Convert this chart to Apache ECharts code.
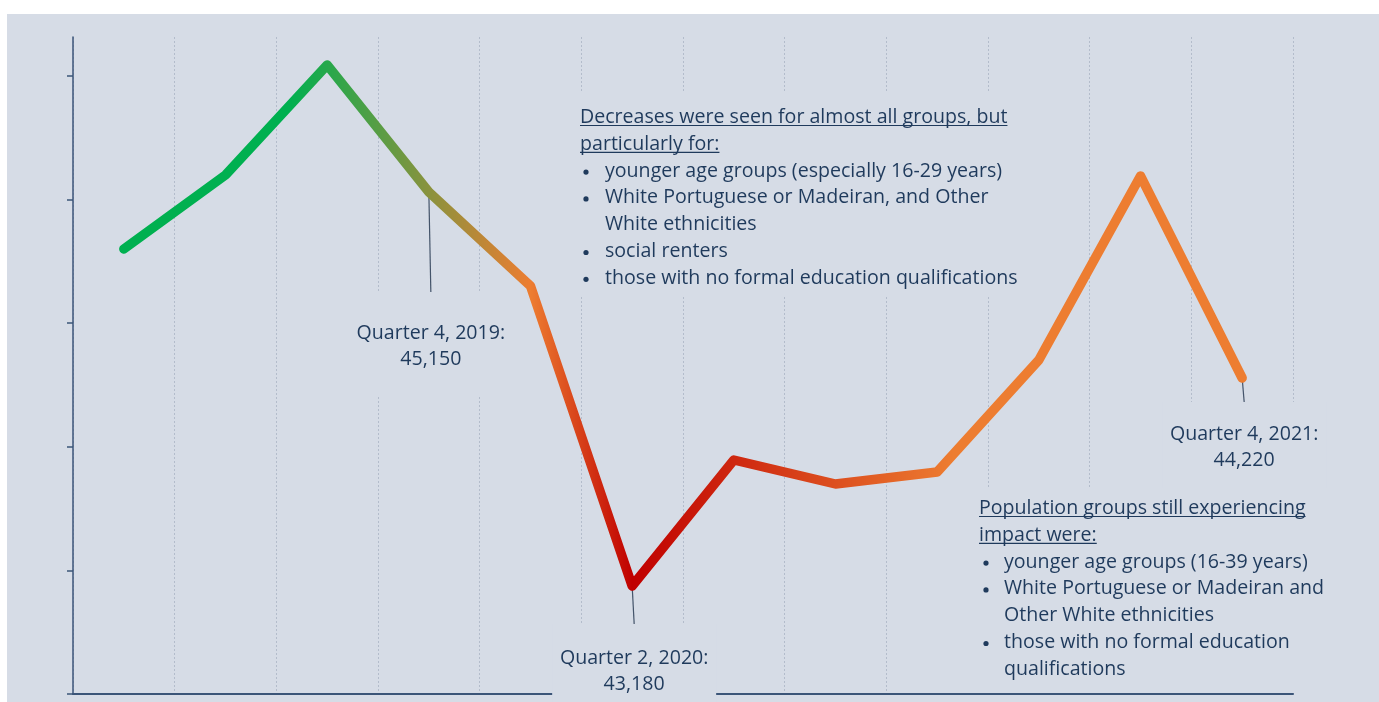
<!DOCTYPE html>
<html>
<head>
<meta charset="utf-8">
<script src="https://cdn.jsdelivr.net/npm/echarts@6/dist/echarts.min.js"></script>
<style>
  html, body { margin: 0; background: #ffffff; }
  #chart { position: absolute; left: 7px; top: 14px; width: 1372px; height: 688px; }
</style>
</head>
<body>
<div id="chart"></div>
<script>
// Quarterly employment count, 2019–2021
const quarters = [
  'Quarter 1, 2019', 'Quarter 2, 2019', 'Quarter 3, 2019', 'Quarter 4, 2019',
  'Quarter 1, 2020', 'Quarter 2, 2020', 'Quarter 3, 2020', 'Quarter 4, 2020',
  'Quarter 1, 2021', 'Quarter 2, 2021', 'Quarter 3, 2021', 'Quarter 4, 2021'
];
const employed = [44865, 45235, 45785, 45150, 44680, 43180, 43810, 43690, 43750, 44310, 45230, 44220];
const yTicks = [42640, 43258, 43876, 44494, 45112, 45730];
const yMin = 42640;
const yMax = 45925;
const calloutIndex = [3, 5, 11];

const decreaseHeading = ['Decreases were seen for almost all groups, but', 'particularly for:'];
const decreaseBullets = [
  ['younger age groups (especially 16-29 years)'],
  ['White Portuguese or Madeiran, and Other', 'White ethnicities'],
  ['social renters'],
  ['those with no formal education qualifications']
];
const impactHeading = ['Population groups still experiencing', 'impact were:'];
const impactBullets = [
  ['younger age groups (16-39 years)'],
  ['White Portuguese or Madeiran and', 'Other White ethnicities'],
  ['those with no formal education', 'qualifications']
];

// ---- styling ----
const BG = '#d6dce6';
const INK = '#1f3a5c';
const AXIS = '#3b5578';
const FONT = '"Open Sans"';
const FS = 19.6;
const STEP = 26.8;

const measureCtx = document.createElement('canvas').getContext('2d');
function textWidth(s) {
  measureCtx.font = FS + 'px ' + FONT;
  return measureCtx.measureText(s).width;
}

// A note block: underlined heading followed by a bulleted list on a plain panel
function noteBlock(panel, x, y, bulletX, textX, heading, bullets) {
  const els = [{
    type: 'rect', z: 5, silent: true,
    shape: panel, style: { fill: BG }
  }];
  let row = 0;
  heading.forEach(line => {
    const cy = y + row * STEP;
    els.push({
      type: 'text', z: 6, silent: true, x: x, y: cy,
      style: { text: line, fill: INK, font: FS + 'px ' + FONT, verticalAlign: 'middle' }
    });
    els.push({
      type: 'line', z: 6, silent: true,
      shape: { x1: x, y1: cy + 8, x2: x + textWidth(line), y2: cy + 8 },
      style: { stroke: INK, lineWidth: 1.2 }
    });
    row++;
  });
  bullets.forEach(item => {
    item.forEach((line, k) => {
      const cy = y + row * STEP;
      if (k === 0) {
        els.push({
          type: 'circle', z: 6, silent: true,
          shape: { cx: bulletX + 3, cy: cy + 1, r: 2.6 },
          style: { fill: INK }
        });
      }
      els.push({
        type: 'text', z: 6, silent: true, x: textX, y: cy,
        style: { text: line, fill: INK, font: FS + 'px ' + FONT, verticalAlign: 'middle' }
      });
      row++;
    });
  });
  return els;
}

// Leader line offsets and label placement for each callout
const calloutLayout = [
  { drop: 100, textTop: 28 },
  { drop: 38, textTop: 21 },
  { drop: 24, textTop: 19 }
];

const chart = echarts.init(document.getElementById('chart'), null, { renderer: 'canvas' });

const lineGradient = new echarts.graphic.LinearGradient(0, 0, 1, 0, [
  { offset: 0, color: '#00b050' },
  { offset: 0.15, color: '#00b050' },
  { offset: 0.365, color: '#ed7d31' },
  { offset: 0.455, color: '#c00000' },
  { offset: 0.74, color: '#ed7d31' },
  { offset: 1, color: '#ed7d31' }
]);

chart.setOption({
  backgroundColor: BG,
  animation: false,
  grid: { left: 66, top: 23, right: 86, bottom: 8, containLabel: false },
  xAxis: {
    type: 'category',
    data: quarters,
    boundaryGap: true,
    axisLine: { show: true, lineStyle: { color: AXIS, width: 2 } },
    axisTick: { show: false },
    axisLabel: { show: false, interval: 0 },
    splitLine: { show: true, interval: 0, lineStyle: { color: '#b3bccb', width: 1, type: [2, 2] } }
  },
  yAxis: {
    type: 'value',
    min: yMin,
    max: yMax,
    axisLine: { show: true, lineStyle: { color: AXIS, width: 1.5 } },
    axisTick: { show: true, length: 6, customValues: yTicks, lineStyle: { color: AXIS, width: 1.5 } },
    axisLabel: { show: false },
    splitLine: { show: false }
  },
  series: [
    {
      name: 'Employed',
      type: 'line',
      z: 3,
      data: employed,
      symbol: 'none',
      smooth: false,
      lineStyle: { width: 9.5, color: lineGradient, cap: 'round', join: 'round' }
    },
    {
      name: 'Callouts',
      type: 'custom',
      z: 1,
      silent: true,
      clip: false,
      data: calloutIndex.map(i => [i, employed[i]]),
      renderItem: function (params, api) {
        const idx = api.value(0);
        const val = api.value(1);
        const pt = api.coord([idx, val]);
        const lay = calloutLayout[params.dataIndex];
        const ex = pt[0] + 2;
        const ey = pt[1] + lay.drop;
        return {
          type: 'group',
          children: [
            { type: 'rect', shape: { x: ex - 82, y: ey, width: 164, height: 103 }, style: { fill: BG } },
            { type: 'line', shape: { x1: pt[0], y1: pt[1], x2: ex, y2: ey }, style: { stroke: '#44546a', lineWidth: 1.2 } },
            {
              type: 'text', x: ex, y: ey + lay.textTop,
              style: {
                text: quarters[idx] + ':\n' + val.toLocaleString('en-GB'),
                fill: INK, font: FS + 'px ' + FONT, align: 'center', verticalAlign: 'top', lineHeight: 26
              }
            }
          ]
        };
      }
    }
  ],
  graphic: [].concat(
    noteBlock({ x: 559, y: 79, width: 474, height: 203 }, 573, 103.5, 576, 598, decreaseHeading, decreaseBullets),
    noteBlock({ x: 965, y: 474, width: 363, height: 203 }, 972, 494.5, 976, 997, impactHeading, impactBullets)
  )
});
</script>
</body>
</html>
